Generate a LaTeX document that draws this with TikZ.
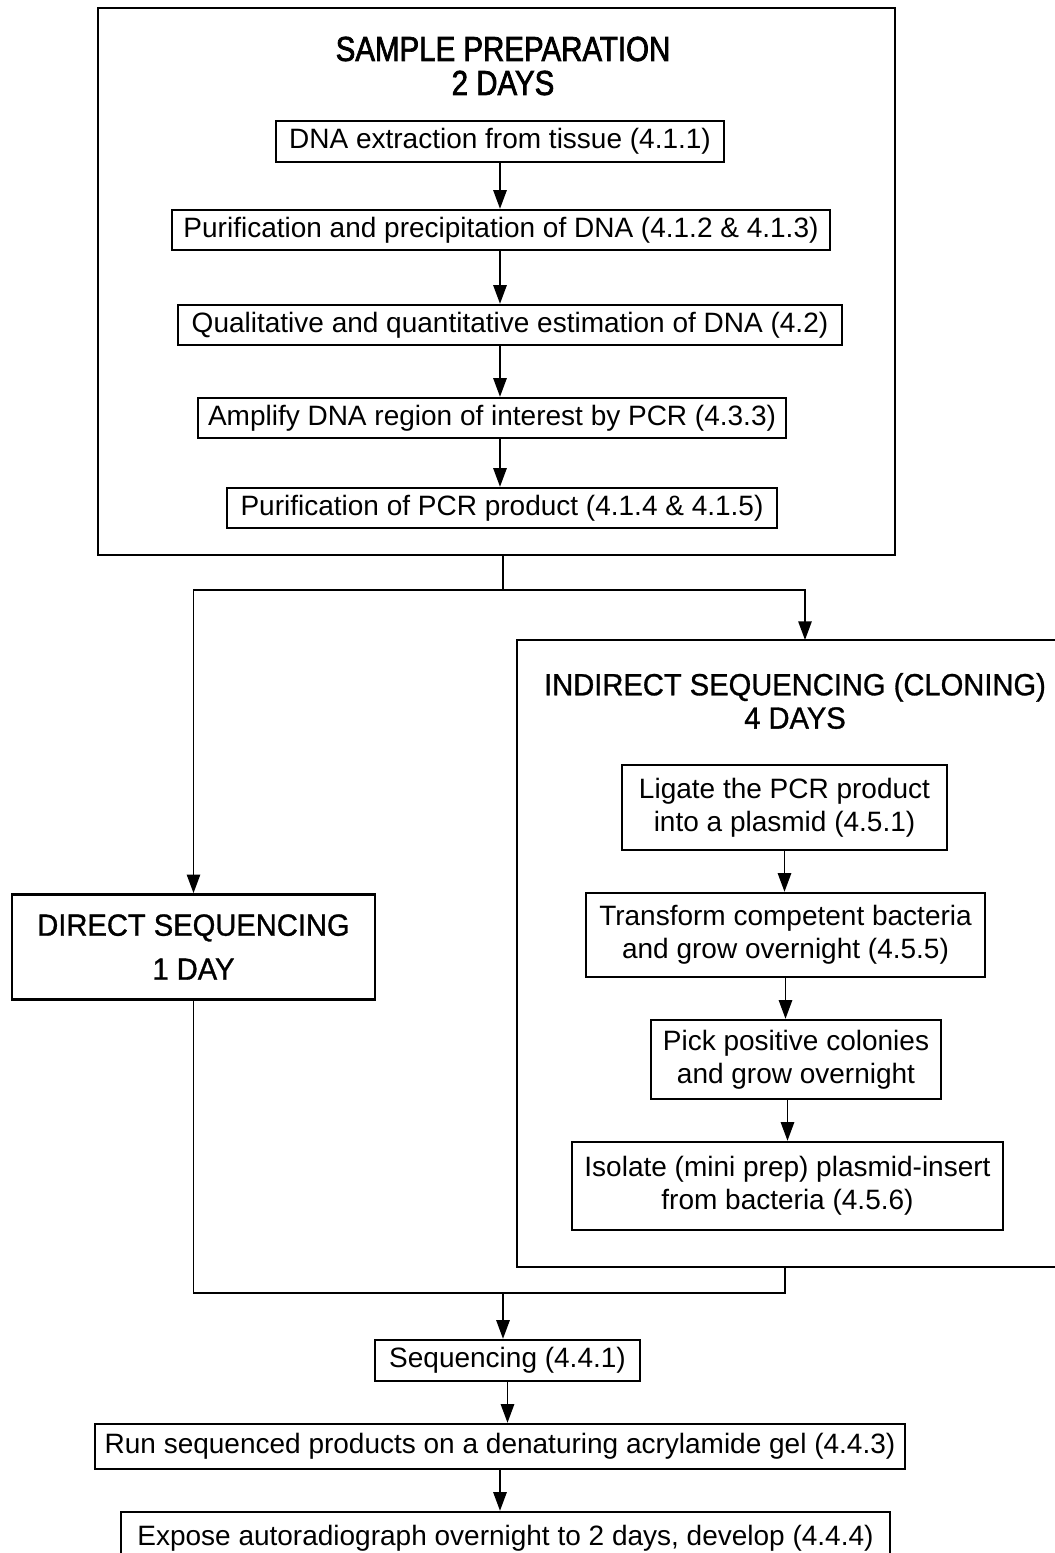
\documentclass[tikz,border=0pt]{standalone}
\usepackage{fontspec}
\setmainfont{Liberation Sans}
\newfontfamily\headfont[FakeStretch=0.85,FakeBold=2]{Liberation Sans}
\newfontfamily\subheadfont[FakeStretch=0.95,FakeBold=1]{Liberation Sans}
\usetikzlibrary{arrows.meta,calc,positioning}
\tikzset{
  flow/.style={-{Triangle[length=14pt,width=10pt]}, line width=1.3pt},
  link/.style={line width=1pt},
  task box/.style={draw, line width=1.8pt, align=center, inner sep=0pt,
    font=\fontsize{21}{25}\selectfont},
  panel/.style={draw, line width=2pt, inner sep=0pt},
  panel title/.style={align=center, inner sep=0pt,
    font=\headfont\fontsize{26}{25.5}\selectfont},
  stage title/.style={align=center, inner sep=0pt,
    font=\subheadfont\fontsize{23}{33}\selectfont}
}

\begin{document}
\begin{tikzpicture}[x=0.75pt, y=-0.75pt]
  \useasboundingbox (0,0) rectangle (1055,1553);
  \clip (0,0) rectangle (1055,1553);
  % sample preparation
  \node[panel, minimum width=597.75pt, minimum height=410.25pt] (prep) at (496.5,281.5) {};
  \node[panel title] (preptitle) at (503,66) {SAMPLE PREPARATION\\2 DAYS};
  \node[task box, minimum width=336pt, minimum height=30.75pt] (extract) at (500,141.5)
    {DNA extraction from tissue (4.1.1)};
  \node[task box, minimum width=493.5pt, minimum height=30pt] (purify) at (501,230)
    {Purification and precipitation of DNA (4.1.2 \& 4.1.3)};
  \node[task box, minimum width=498pt, minimum height=30pt] (quant) at (510,325)
    {Qualitative and quantitative estimation of DNA (4.2)};
  \node[task box, minimum width=441pt, minimum height=30pt] (amplify) at (492,418)
    {Amplify DNA region of interest by PCR (4.3.3)};
  \node[task box, minimum width=412.5pt, minimum height=30pt] (pcrclean) at (502,508)
    {Purification of PCR product (4.1.4 \& 4.1.5)};
  \foreach \a/\b in {extract/purify, purify/quant, quant/amplify, amplify/pcrclean}
    \draw[flow] (\a.south -| extract.south) -- (\b.north -| extract.south);

  % direct sequencing
  \node[panel, stage title, minimum width=272.25pt, minimum height=78.75pt] (direct)
    at (193.5,947) {DIRECT SEQUENCING\\1 DAY};

  % indirect sequencing
  \node[panel, minimum width=437.25pt, minimum height=470.25pt] (indirect) at (808.5,953.5) {};
  \node[stage title, font=\subheadfont\fontsize{23}{25}\selectfont] (indtitle) at (795,701)
    {INDIRECT SEQUENCING (CLONING)\\4 DAYS};
  \node[task box, minimum width=243.75pt, minimum height=63.75pt] (ligate) at (784.5,807.5)
    {Ligate the PCR product\\into a plasmid (4.5.1)};
  \node[task box, minimum width=299.25pt, minimum height=63pt] (transform) at (785.5,935)
    {Transform competent bacteria\\and grow overnight (4.5.5)};
  \node[task box, minimum width=217.5pt, minimum height=59.25pt] (pick) at (796,1059.5)
    {Pick positive colonies\\and grow overnight};
  \node[task box, minimum width=323.25pt, minimum height=66pt] (isolate) at (787.5,1186)
    {Isolate (mini prep) plasmid-insert\\from bacteria (4.5.6)};
  \draw[flow] (ligate.south) -- (ligate.south |- transform.north);
  \draw[flow] (transform.south) -- (transform.south |- pick.north);
  \draw[flow] (pick.south -| isolate.north) -- (isolate.north);

  % branching
  \coordinate (split) at (503,590);
  \coordinate (intop) at (805,640);
  \draw[link] (prep.south -| split) -- (split);
  \draw[flow] (split) -| (direct.north);
  \draw[flow] (split) -| (intop);

  % joining
  \coordinate (merge) at (503,1293);
  \coordinate (inbot) at (785,1267);
  \draw[link] (direct.south) |- (merge);
  \draw[link] (inbot) |- (merge);

  % sequencing
  \node[task box, minimum width=198.75pt, minimum height=30.75pt] (seq) at (507.5,1360.5)
    {Sequencing (4.4.1)};
  \node[task box, minimum width=607.5pt, minimum height=33.75pt] (rungel) at (500,1446.5)
    {Run sequenced products on a denaturing acrylamide gel (4.4.3)};
  \node[task box, minimum width=576.75pt, minimum height=39pt] (expose) at (505.5,1538)
    {Expose autoradiograph overnight to 2 days, develop (4.4.4)};
  \draw[flow] (merge) -- (merge |- seq.north);
  \draw[flow] (seq.south) -- (seq.south |- rungel.north);
  \draw[flow] (rungel.south) -- (rungel.south |- expose.north);
\end{tikzpicture}
\end{document}
